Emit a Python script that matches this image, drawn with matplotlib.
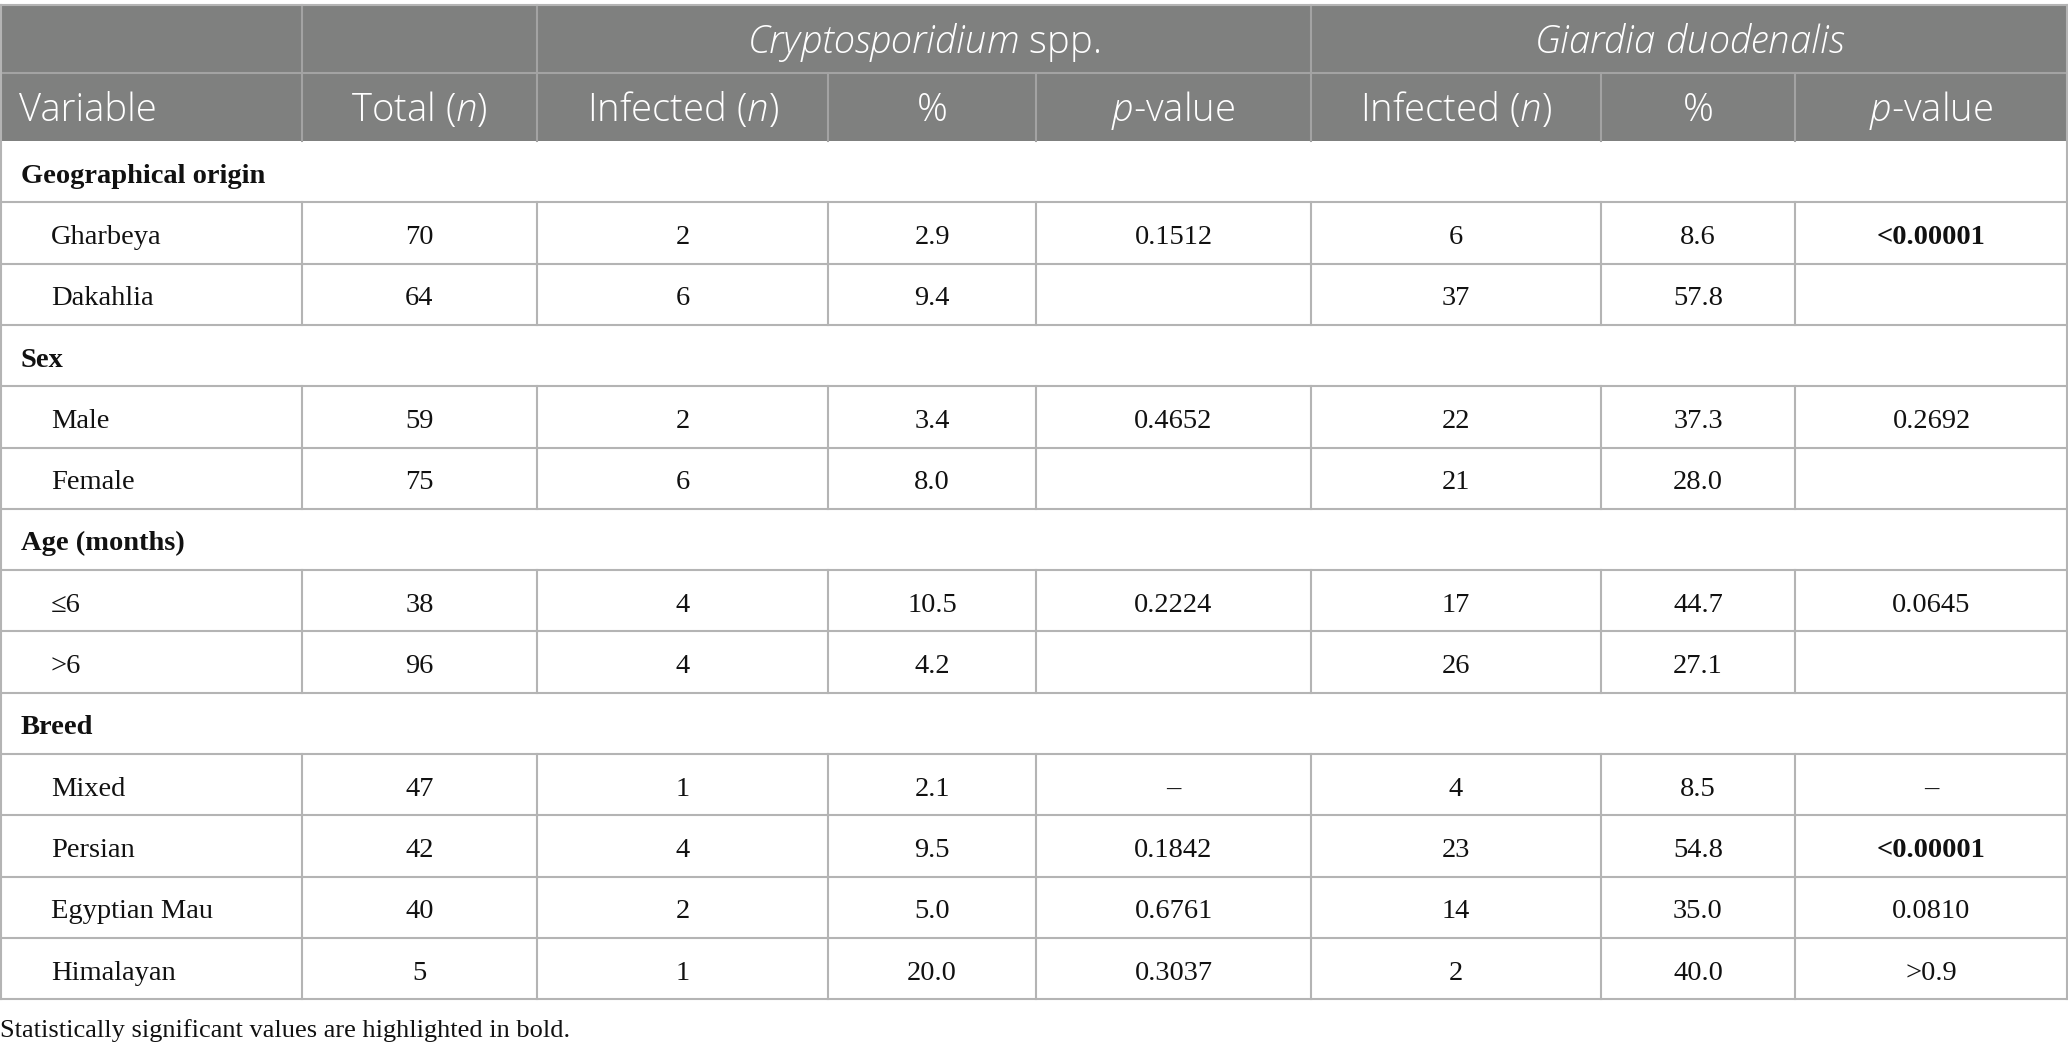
import matplotlib
matplotlib.use("Agg")
import matplotlib.pyplot as plt
from matplotlib.patches import Rectangle

plt.rcParams['mathtext.fontset'] = 'custom'
plt.rcParams['mathtext.rm'] = 'Open Sans:light'
plt.rcParams['mathtext.it'] = 'Open Sans:italic:light'

# ---- table content ----
group_headers = [r"$Cryptosporidium$ spp.", r"$Giardia\ duodenalis$"]
col_headers = ["Variable", r"Total ($n$)", r"Infected ($n$)", "%", r"$p$-value",
               r"Infected ($n$)", "%", r"$p$-value"]

sections = ["Geographical origin", "Sex", "Age (months)", "Breed"]
section_rows = [
    ["Gharbeya", "Dakahlia"],
    ["Male", "Female"],
    ["\u22646", ">6"],
    ["Mixed", "Persian", "Egyptian Mau", "Himalayan"],
]
totals = [70, 64, 59, 75, 38, 96, 47, 42, 40, 5]
crypto_n = [2, 6, 2, 6, 4, 4, 1, 4, 2, 1]
crypto_pct = ["2.9", "9.4", "3.4", "8.0", "10.5", "4.2", "2.1", "9.5", "5.0", "20.0"]
crypto_p = ["0.1512", "", "0.4652", "", "0.2224", "", "\u2013", "0.1842", "0.6761", "0.3037"]
giardia_n = [6, 37, 22, 21, 17, 26, 4, 23, 14, 2]
giardia_pct = ["8.6", "57.8", "37.3", "28.0", "44.7", "27.1", "8.5", "54.8", "35.0", "40.0"]
giardia_p = ["<0.00001", "", "0.2692", "", "0.0645", "", "\u2013", "<0.00001", "0.0810", ">0.9"]
significant = ["<0.00001"]
footnote = "Statistically significant values are highlighted in bold."

# ---- layout (pixels) ----
W, H = 2068, 1053
col_edges = [0, 302, 537, 828, 1036, 1311, 1601, 1795, 2068]
top = 5
hdr_h = 68
row_h = 61.3
header_bg = "#7f807f"
grid_col = "#b4b4b4"
hdr_line = "#a3a3a3"
serif = ["Liberation Serif", "DejaVu Serif"]
sans = ["Open Sans", "DejaVu Sans"]
fs_body = 20.5
fs_head = 27.5
hdr_base = 14    # baseline offset below row centre
body_base = 11

fig = plt.figure(figsize=(W / 100, H / 100), dpi=100)
ax = fig.add_axes([0, 0, 1, 1])
ax.set_xlim(0, W)
ax.set_ylim(H, 0)
ax.axis("off")

# header background
ax.add_patch(Rectangle((0, top), W, 2 * hdr_h, color=header_bg, lw=0))
y1 = top + hdr_h
y2 = top + 2 * hdr_h
ax.plot([0, W], [y1, y1], color=hdr_line, lw=1.5)
for x in [col_edges[1], col_edges[2], col_edges[5]]:
    ax.plot([x, x], [top, y2], color=hdr_line, lw=1.5)
for x in col_edges[3:5] + col_edges[6:8]:
    ax.plot([x, x], [y1, y2], color=hdr_line, lw=1.5)

# header text
hkw = dict(color="white", fontsize=fs_head, family=sans, weight="light",
           va="baseline")
ax.text((col_edges[2] + col_edges[5]) / 2, top + hdr_h / 2 + hdr_base,
        group_headers[0], ha="center", **hkw)
ax.text((col_edges[5] + col_edges[8]) / 2, top + hdr_h / 2 + hdr_base,
        group_headers[1], ha="center", **hkw)
for i, h in enumerate(col_headers):
    yb = y1 + hdr_h / 2 + hdr_base
    if i == 0:
        ax.text(19, yb, h, ha="left", **hkw)
    else:
        ax.text((col_edges[i] + col_edges[i + 1]) / 2, yb, h, ha="center", **hkw)

# body
bkw = dict(fontsize=fs_body, family=serif, va="baseline", color="#111111")
y = y2
k = 0
for sec, names in zip(sections, section_rows):
    ax.text(21, y + row_h / 2 + body_base, sec, weight="bold", ha="left", **bkw)
    y += row_h
    ax.plot([0, W], [y, y], color=grid_col, lw=1.5)
    for name in names:
        vals = [totals[k], crypto_n[k], crypto_pct[k], crypto_p[k],
                giardia_n[k], giardia_pct[k], giardia_p[k]]
        yb = y + row_h / 2 + body_base
        ax.text(51, yb, name, ha="left", **bkw)
        for j, v in enumerate(vals):
            v = str(v)
            ax.text((col_edges[j + 1] + col_edges[j + 2]) / 2, yb, v,
                    ha="center", weight="bold" if v in significant else "normal",
                    **bkw)
        for x in col_edges[1:-1]:
            ax.plot([x, x], [y, y + row_h], color=grid_col, lw=1.5)
        y += row_h
        ax.plot([0, W], [y, y], color=grid_col, lw=1.5)
        k += 1

# outer border
ax.plot([1, 1], [top, y], color=grid_col, lw=1.5)
ax.plot([W - 1, W - 1], [top, y], color=grid_col, lw=1.5)
ax.plot([0, W], [top, top], color=grid_col, lw=1.5)

ax.text(0, y + 38, footnote, fontsize=19, family=serif, ha="left",
        va="baseline", color="#111111")

fig.savefig("out.png", dpi=100)
